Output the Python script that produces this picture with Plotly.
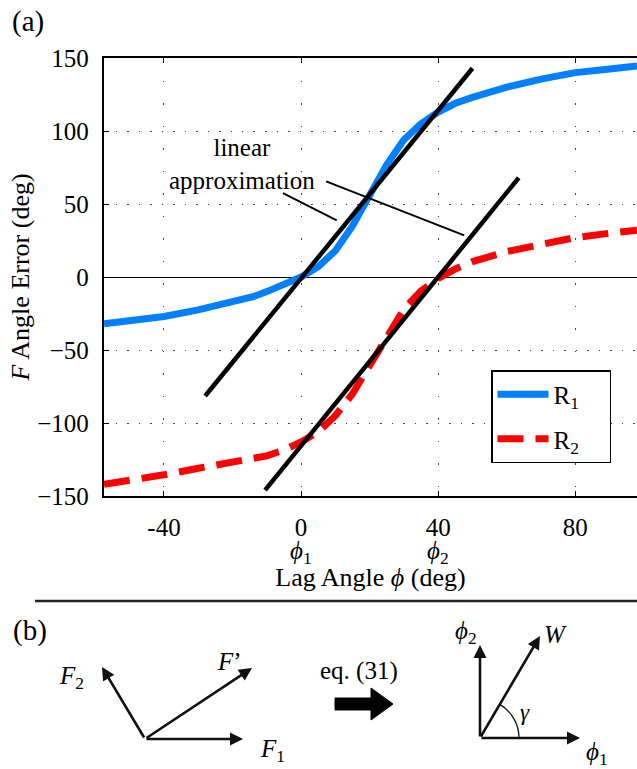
import math
import plotly.graph_objects as go

# ---------------- data ----------------
lag_angle = [-57.5, -50, -40, -30, -20, -14, -10, -5, 0, 5, 10, 15, 20, 25, 30, 35,
             40, 45, 50, 60, 70, 80, 90, 98]
r1_error = [-32, -30, -27, -22.5, -17, -13.5, -10, -5.5, 0, 7, 18, 35, 56, 77, 94, 105,
            113, 119, 123, 130, 135.5, 140, 142.5, 144.5]
r2_error = [-142, -139.5, -135.5, -131, -127, -125, -122.5, -118.5, -113, -106, -95, -80,
            -60, -40, -22, -9.5, -1, 5.5, 10.5, 17.5, 22.5, 27, 30, 32]

lin1_x = [-28, 50]
lin1_y = [-81.5, 143]
lin2_x = [-10.5, 63.5]
lin2_y = [-146, 68]

x_ticks = [-40, 0, 40, 80]
x_ticktext = ["-40", "0", "40", "80"]
y_ticks = [-150, -100, -50, 0, 50, 100, 150]
y_ticktext = ["\u2212150", "\u2212100", "\u221250", "0", "50", "100", "150"]

FONT = "Liberation Serif"
W, H = 637, 769
ML, MR, MT, MB = 104, 0, 58, 273
PW, PH = W - ML - MR, H - MT - MB


def px(x):
    return (x - ML) / PW


def py(y):
    return (H - MB - y) / PH


PAD = "\u00a0" * 4

fig = go.Figure()

fig.add_trace(go.Scatter(x=lag_angle, y=r1_error, mode="lines", name="R<sub>1</sub>" + PAD,
                         legendgroup="r1",
                         line=dict(color="rgb(0,128,255)", width=7)))
fig.add_trace(go.Scatter(x=lag_angle, y=r2_error, mode="lines", name="R<sub>2</sub>" + PAD,
                         legendgroup="r2",
                         line=dict(color="rgb(255,0,0)", width=7, dash="26px,12px")))
fig.add_trace(go.Scatter(x=lin1_x, y=lin1_y, mode="lines", showlegend=False,
                         line=dict(color="black", width=4.5)))
fig.add_trace(go.Scatter(x=lin2_x, y=lin2_y, mode="lines", showlegend=False,
                         line=dict(color="black", width=4.5)))


def label(x, y, text, size=25, xref="paper"):
    fig.add_annotation(xref=xref, yref="paper", x=(px(x) if xref == "paper" else x), y=py(y),
                       text=text, showarrow=False, xanchor="center", yanchor="middle",
                       align="center", font=dict(family=FONT, size=size, color="black"))


# leader lines of the "linear approximation" label (data coords)
fig.add_shape(type="line", xref="x", yref="y", x0=-5.3, y0=57.5, x1=10.4, y1=38.8,
              line=dict(color="black", width=2))
fig.add_shape(type="line", xref="x", yref="y", x0=7.3, y0=65.5, x1=47.6, y1=28.5,
              line=dict(color="black", width=2))
label(242, 164, "linear<br>approximation")

# phi labels under the x axis
label(0, 552, "<i>\u03d5</i><sub>1</sub>", xref="x")
label(40, 552, "<i>\u03d5</i><sub>2</sub>", xref="x")

# panel labels
label(28, 21, "(a)", size=29)
label(30, 630, "(b)", size=29)

# separator line
fig.add_shape(type="line", xref="paper", yref="paper", x0=px(35), y0=py(601),
              x1=px(637), y1=py(601), line=dict(color="#222", width=2.5))


# ---------------- panel (b) diagram ----------------
def arrow(tail, tip):
    fig.add_annotation(xref="paper", yref="paper", x=px(tip[0]), y=py(tip[1]),
                       ax=tail[0] - tip[0], ay=tail[1] - tip[1], axref="pixel", ayref="pixel",
                       text="", showarrow=True, arrowhead=2, arrowsize=1.0,
                       arrowwidth=2.6, arrowcolor="#111")


o1 = (145, 739)
arrow(o1, (243, 739))
arrow(o1, (102, 667))
arrow(o1, (252, 668))
label(272, 750, "<i>F</i><sub>1</sub>")
label(71, 677, "<i>F</i><sub>2</sub>")
label(229, 661, "<i>F</i>\u2019")

label(359, 671, "eq. (31)")
pts = [(335, 698), (371, 698), (371, 688), (393, 704), (371, 720), (371, 710), (335, 710)]
path = "M" + " L".join(f"{px(a):.5f},{py(b):.5f}" for a, b in pts) + " Z"
fig.add_shape(type="path", xref="paper", yref="paper", path=path,
              fillcolor="black", line=dict(color="black", width=1))

o2 = (480, 738)
arrow(o2, (580, 738))
arrow(o2, (480, 645))
arrow(o2, (540, 636))
label(466, 632, "<i>\u03d5</i><sub>2</sub>")
label(555, 634, "<i>W</i>")
label(525, 712, "<i>\u03b3</i>", size=23)
label(597, 753, "<i>\u03d5</i><sub>1</sub>")

# gamma arc as cubic bezier
r = 39.0
th = math.radians(59.5)
k = 4.0 / 3.0 * math.tan(th / 4.0)
P = [(r, 0), (r, k * r), (r * (math.cos(th) + k * math.sin(th)), r * (math.sin(th) - k * math.cos(th))),
     (r * math.cos(th), r * math.sin(th))]
P = [(o2[0] + a, o2[1] - b) for a, b in P]
arc = (f"M{px(P[0][0]):.5f},{py(P[0][1]):.5f} C{px(P[1][0]):.5f},{py(P[1][1]):.5f} "
       f"{px(P[2][0]):.5f},{py(P[2][1]):.5f} {px(P[3][0]):.5f},{py(P[3][1]):.5f}")
fig.add_shape(type="path", xref="paper", yref="paper", path=arc,
              line=dict(color="#111", width=1.3))

fig.update_layout(
    width=W, height=H,
    margin=dict(l=ML, r=MR, t=MT, b=MB, pad=0),
    paper_bgcolor="white", plot_bgcolor="white",
    font=dict(family=FONT, size=25, color="black"),
    showlegend=True,
    legend=dict(x=px(491), y=py(370), xanchor="left", yanchor="top",
                bgcolor="white", bordercolor="black", borderwidth=1.5,
                tracegroupgap=9, itemwidth=51,
                font=dict(family=FONT, size=25, color="black")),
    xaxis=dict(range=[-57.5, 98], tickvals=x_ticks, ticktext=x_ticktext,
               ticks="inside", ticklen=5, tickwidth=1, tickcolor="black",
               showline=True, linecolor="black", linewidth=2.3, mirror="ticks",
               showgrid=True, gridcolor="#444", gridwidth=1.2, griddash="1.5px,21px",
               zeroline=False, ticklabelstandoff=8,
               title=dict(text="Lag Angle <i>\u03d5</i> (deg)", standoff=28,
                          font=dict(family=FONT, size=26, color="black"))),
    yaxis=dict(range=[-150, 150], tickvals=y_ticks, ticktext=y_ticktext,
               ticks="inside", ticklen=5, tickwidth=1, tickcolor="black",
               showline=True, linecolor="black", linewidth=2.3, mirror=False,
               showgrid=True, gridcolor="#444", gridwidth=1.2, griddash="1.5px,10px",
               zeroline=True, zerolinecolor="black", zerolinewidth=1,
               ticklabelstandoff=8,
               title=dict(text="<i>F</i> Angle Error (deg)", standoff=0,
                          font=dict(family=FONT, size=26, color="black"))),
)

fig.write_html("out.html")
